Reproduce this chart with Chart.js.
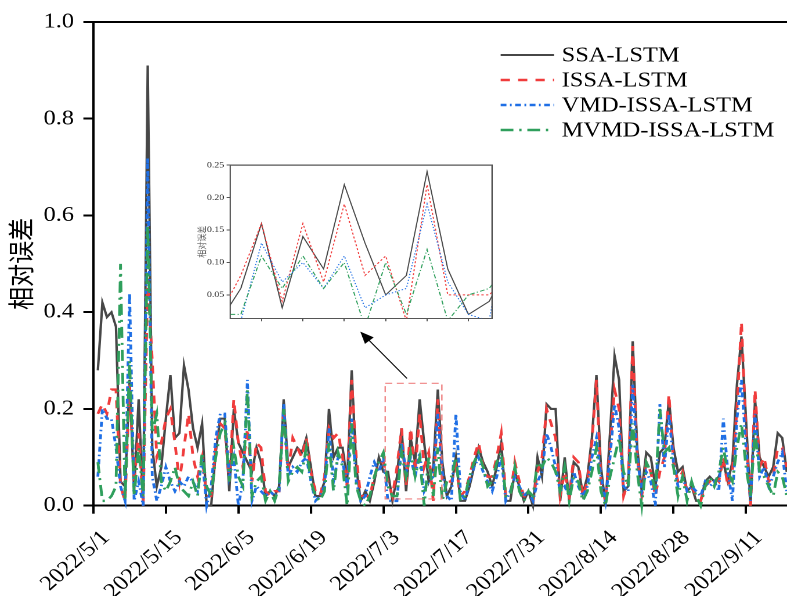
<!DOCTYPE html>
<html>
<head>
<meta charset="utf-8">
<script src="https://cdn.jsdelivr.net/npm/chart.js@4/dist/chart.umd.min.js"></script>
<style>
  html, body { margin: 0; padding: 0; background: #fff; }
  #wrap { position: relative; width: 787px; height: 596px; overflow: hidden; }
  #main { position: absolute; left: 0; top: 0; }
  #inset { position: absolute; left: 186px; top: 158px; }
</style>
</head>
<body>
<div id="wrap">
  <canvas id="main" width="678" height="596" style="width:787px;height:596px"></canvas>
  <canvas id="inset" width="284" height="170" style="width:330px;height:170px"></canvas>
</div>
<script>
// Date labels, one every 16 samples
const tickLabels = ['2022/5/1', '2022/5/15', '2022/6/5', '2022/6/19', '2022/7/3',
                    '2022/7/17', '2022/7/31', '2022/8/14', '2022/8/28', '2022/9/11'];
const tickStep = 16;
const yTicks = [0, 0.2, 0.4, 0.6, 0.8, 1.0];
const insetXTicks = [68, 70, 72, 74, 76, 78];
const insetYTicks = [0.05, 0.10, 0.15, 0.20, 0.25];

const seriesNames = ['SSA-LSTM', 'ISSA-LSTM', 'VMD-ISSA-LSTM', 'MVMD-ISSA-LSTM'];

// Relative error per sample (samples 1..153)
const ssaLstm = [
  0.28,0.42,0.39,0.40,0.37,0.05,0.04,0.26,0.03,0.22,0.00,0.91,0.12,0.04,0.08,0.18,
  0.27,0.14,0.15,0.29,0.24,0.16,0.12,0.17,0.00,0.00,0.11,0.18,0.18,0.03,0.20,0.13,
  0.11,0.09,0.07,0.12,0.09,0.02,0.03,0.02,0.04,0.22,0.08,0.10,0.12,0.11,0.14,0.08,
  0.02,0.02,0.05,0.20,0.10,0.12,0.12,0.05,0.28,0.08,0.01,0.03,0.01,0.05,0.10,0.07,
  0.07,0.01,0.06,0.16,0.03,0.14,0.09,0.22,0.13,0.05,0.08,0.24,0.09,0.02,0.04,0.10,
  0.01,0.01,0.04,0.08,0.12,0.09,0.07,0.04,0.08,0.13,0.01,0.01,0.07,0.04,0.01,0.03,
  0.00,0.10,0.06,0.21,0.20,0.20,0.01,0.10,0.01,0.09,0.08,0.025,0.06,0.14,0.27,0.08,
  0.00,0.15,0.31,0.26,0.03,0.04,0.34,0.12,0.03,0.11,0.10,0.04,0.11,0.12,0.22,0.12,
  0.07,0.08,0.03,0.04,0.01,0.01,0.05,0.06,0.05,0.06,0.09,0.05,0.09,0.25,0.35,0.18,
  0.00,0.22,0.10,0.08,0.06,0.08,0.15,0.14,0.07
];
const issaLstm = [
  0.19,0.21,0.19,0.24,0.24,0.04,0.01,0.25,0.05,0.15,0.00,0.47,0.30,0.10,0.13,0.18,
  0.20,0.13,0.05,0.12,0.19,0.10,0.06,0.10,0.02,0.02,0.12,0.17,0.16,0.05,0.22,0.13,
  0.08,0.16,0.05,0.13,0.12,0.03,0.02,0.03,0.03,0.20,0.07,0.14,0.12,0.10,0.14,0.07,
  0.03,0.02,0.06,0.16,0.14,0.15,0.10,0.04,0.26,0.10,0.02,0.02,0.02,0.06,0.09,0.09,
  0.05,0.02,0.08,0.16,0.04,0.16,0.07,0.19,0.08,0.11,0.01,0.22,0.05,0.05,0.05,0.08,
  0.02,0.03,0.06,0.10,0.13,0.08,0.06,0.06,0.10,0.15,0.02,0.02,0.09,0.05,0.02,0.02,
  0.01,0.07,0.10,0.20,0.17,0.14,0.02,0.07,0.02,0.10,0.09,0.02,0.05,0.13,0.26,0.05,
  0.01,0.12,0.24,0.20,0.02,0.05,0.33,0.10,0.02,0.09,0.07,0.02,0.07,0.10,0.23,0.09,
  0.05,0.07,0.03,0.04,0.02,0.01,0.04,0.05,0.06,0.05,0.10,0.04,0.07,0.20,0.38,0.15,
  0.00,0.24,0.08,0.10,0.05,0.06,0.12,0.12,0.08
];
const vmdIssaLstm = [
  0.06,0.20,0.18,0.18,0.12,0.04,0.01,0.44,0.01,0.05,0.00,0.72,0.06,0.01,0.04,0.08,
  0.05,0.03,0.05,0.04,0.06,0.05,0.03,0.10,0.00,0.04,0.14,0.19,0.19,0.06,0.10,0.00,
  0.05,0.26,0.01,0.04,0.03,0.02,0.03,0.02,0.03,0.21,0.06,0.08,0.07,0.09,0.10,0.05,
  0.01,0.02,0.04,0.16,0.05,0.10,0.09,0.04,0.18,0.05,0.01,0.02,0.06,0.09,0.07,0.10,
  0.01,0.01,0.01,0.13,0.07,0.10,0.06,0.11,0.03,0.05,0.06,0.19,0.07,0.02,0.01,0.19,
  0.03,0.01,0.05,0.08,0.10,0.07,0.05,0.03,0.06,0.10,0.01,0.03,0.06,0.04,0.02,0.03,
  0.01,0.05,0.07,0.15,0.12,0.08,0.03,0.04,0.02,0.07,0.04,0.02,0.04,0.10,0.14,0.06,
  0.01,0.10,0.21,0.16,0.04,0.03,0.25,0.10,0.03,0.07,0.05,0.00,0.21,0.08,0.19,0.09,
  0.04,0.06,0.03,0.04,0.03,0.02,0.05,0.04,0.05,0.03,0.18,0.07,0.01,0.18,0.26,0.12,
  0.01,0.19,0.06,0.08,0.04,0.06,0.09,0.11,0.03
];
const mvmdIssaLstm = [
  0.09,0.01,0.01,0.02,0.04,0.50,0.01,0.30,0.02,0.12,0.02,0.58,0.15,0.19,0.05,0.03,
  0.05,0.08,0.04,0.03,0.02,0.05,0.02,0.11,0.04,0.02,0.10,0.15,0.17,0.05,0.12,0.06,
  0.04,0.24,0.02,0.05,0.06,0.01,0.03,0.01,0.04,0.20,0.05,0.07,0.08,0.07,0.12,0.05,
  0.02,0.01,0.03,0.13,0.03,0.11,0.08,0.00,0.17,0.04,0.01,0.00,0.02,0.06,0.09,0.11,
  0.04,0.02,0.02,0.11,0.06,0.11,0.06,0.10,0.00,0.10,0.02,0.12,0.01,0.05,0.06,0.10,
  0.01,0.02,0.06,0.09,0.11,0.08,0.04,0.05,0.09,0.11,0.02,0.02,0.08,0.03,0.01,0.03,
  0.02,0.09,0.08,0.10,0.09,0.07,0.03,0.08,0.01,0.06,0.05,0.01,0.03,0.07,0.12,0.03,
  0.00,0.06,0.10,0.14,0.07,0.04,0.17,0.07,0.00,0.09,0.07,0.03,0.20,0.11,0.12,0.08,
  0.02,0.06,0.01,0.05,0.02,0.00,0.04,0.06,0.04,0.07,0.12,0.07,0.05,0.12,0.17,0.08,
  0.02,0.15,0.07,0.06,0.04,0.02,0.07,0.06,0.02
];

// Magnified window (sample index / error) and the arrow pointing to its inset
const zoomWindow = { x0: 64.4, x1: 76.9, y0: 0.014, y1: 0.253 };
const insetRange = { xMin: 66.48, xMax: 79.14, yMin: 0.014, yMax: 0.25 };
const arrowFrom = { x: 69.2, y: 0.263 };
const arrowTo = { x: 58.9, y: 0.36 };

const allSeries = [ssaLstm, issaLstm, vmdIssaLstm, mvmdIssaLstm];
const styles = [
  { color: '#474747', width: 2.1, dash: [],               insetDash: [] },
  { color: '#f03c3c', width: 2.4, dash: [8, 7],           insetDash: [2, 2] },
  { color: '#1f6fe5', width: 2.4, dash: [5, 3, 1.5, 3],   insetDash: [1.2, 1.8] },
  { color: '#2f9f5c', width: 2.4, dash: [11, 5, 2, 5],    insetDash: [4, 2, 1, 2] }
];
const toPoints = arr => arr.map((v, i) => ({ x: i + 1, y: v }));

const serif = '"Liberation Serif", "Times New Roman", serif';
const cjk = '"Noto Sans CJK SC", sans-serif';

// Top frame line, magnified-window box, arrow and legend
const decorations = {
  id: 'decorations',
  afterDraw(chart) {
    const { ctx, chartArea: a, scales: { x, y } } = chart;
    ctx.save();
    ctx.strokeStyle = '#000';
    ctx.lineWidth = 2;
    ctx.beginPath();
    ctx.moveTo(a.left - 1, a.top);
    ctx.lineTo(a.right, a.top);
    ctx.stroke();

    // dashed window
    const bx0 = x.getPixelForValue(zoomWindow.x0), bx1 = x.getPixelForValue(zoomWindow.x1);
    const by0 = y.getPixelForValue(zoomWindow.y0), by1 = y.getPixelForValue(zoomWindow.y1);
    ctx.strokeStyle = 'rgba(236,110,110,0.85)';
    ctx.lineWidth = 1.2;
    ctx.setLineDash([6, 4]);
    ctx.strokeRect(bx0, by1, bx1 - bx0, by0 - by1);
    ctx.setLineDash([]);

    // arrow
    const tx = x.getPixelForValue(arrowFrom.x), ty = y.getPixelForValue(arrowFrom.y);
    const hx = x.getPixelForValue(arrowTo.x), hy = y.getPixelForValue(arrowTo.y);
    const ang = Math.atan2(hy - ty, hx - tx);
    const L = 12, W = 5;
    ctx.strokeStyle = '#000';
    ctx.fillStyle = '#000';
    ctx.lineWidth = 1;
    ctx.beginPath();
    ctx.moveTo(tx, ty);
    ctx.lineTo(hx - Math.cos(ang) * L * 0.8, hy - Math.sin(ang) * L * 0.8);
    ctx.stroke();
    ctx.beginPath();
    ctx.moveTo(hx, hy);
    ctx.lineTo(hx - Math.cos(ang) * L - Math.sin(ang) * W, hy - Math.sin(ang) * L + Math.cos(ang) * W);
    ctx.lineTo(hx - Math.cos(ang) * L + Math.sin(ang) * W, hy - Math.sin(ang) * L - Math.cos(ang) * W);
    ctx.closePath();
    ctx.fill();

    // legend
    chart.data.datasets.forEach((ds, k) => {
      const ly = 55 + k * 25;
      ctx.strokeStyle = ds.borderColor;
      ctx.lineWidth = ds.borderWidth;
      ctx.setLineDash(ds.borderDash || []);
      ctx.beginPath();
      ctx.moveTo(431.3, ly);
      ctx.lineTo(477.3, ly);
      ctx.stroke();
      ctx.setLineDash([]);
      ctx.fillStyle = '#000';
      ctx.font = '21px ' + serif;
      ctx.textBaseline = 'middle';
      ctx.textAlign = 'left';
      ctx.fillText(ds.label, 483.9, ly + 1);
    });
    ctx.restore();
  }
};

new Chart(document.getElementById('main'), {
  type: 'line',
  data: {
    datasets: allSeries.map((arr, k) => ({
      label: seriesNames[k],
      data: toPoints(arr),
      borderColor: styles[k].color,
      borderWidth: styles[k].width,
      borderDash: styles[k].dash,
      pointRadius: 0,
      tension: 0,
      fill: false,
      clip: false,
      order: 3 - k
    }))
  },
  options: {
    responsive: false,
    devicePixelRatio: 2,
    animation: false,
    layout: { padding: { top: 22, right: 0, bottom: 0, left: 0 } },
    plugins: { legend: { display: false }, tooltip: { enabled: false } },
    scales: {
      x: {
        type: 'linear',
        min: 0,
        max: 153.05,
        afterBuildTicks: s => { s.ticks = tickLabels.map((_, k) => ({ value: k * tickStep })); },
        afterFit: s => { s.height = 90.3; s.paddingLeft = 0; s.paddingRight = 0; },
        ticks: {
          autoSkip: false, maxRotation: 45, minRotation: 45, padding: 12, labelOffset: 11,
          color: '#000', font: { family: serif, size: 21 },
          callback: v => tickLabels[Math.round(v / tickStep)] ?? ''
        },
        grid: { drawOnChartArea: false, drawTicks: true, tickLength: 8, color: '#000', lineWidth: 2 },
        border: { display: true, color: '#000', width: 2 }
      },
      y: {
        min: 0,
        max: 1,
        afterBuildTicks: s => { s.ticks = yTicks.map(v => ({ value: v })); },
        afterFit: s => { s.width = 80.4; },
        ticks: {
          padding: 8, color: '#000', font: { family: serif, size: 21 },
          callback: v => Number(v).toFixed(1)
        },
        grid: { drawOnChartArea: false, drawTicks: true, tickLength: 8.6, color: '#000', lineWidth: 2 },
        border: { display: true, color: '#000', width: 2 },
        title: {
          display: true, text: '相对误差', color: '#000',
          font: { family: cjk, size: 23 }, padding: { top: 4, bottom: 0 }
        }
      }
    }
  },
  plugins: [decorations]
});

// Frame around the magnified view
const insetFrame = {
  id: 'insetFrame',
  afterDraw(chart) {
    const { ctx, chartArea: a } = chart;
    ctx.save();
    ctx.strokeStyle = '#555';
    ctx.lineWidth = 1.2;
    ctx.beginPath();
    ctx.moveTo(a.left, a.top);
    ctx.lineTo(a.right, a.top);
    ctx.lineTo(a.right, a.bottom);
    ctx.stroke();
    ctx.restore();
  }
};

new Chart(document.getElementById('inset'), {
  type: 'line',
  data: {
    datasets: allSeries.map((arr, k) => ({
      label: seriesNames[k],
      data: toPoints(arr),
      borderColor: styles[k].color,
      borderWidth: 1,
      borderDash: styles[k].insetDash,
      pointRadius: 0,
      tension: 0,
      fill: false,
      order: 3 - k
    }))
  },
  options: {
    responsive: false,
    devicePixelRatio: 2,
    animation: false,
    layout: { padding: { top: 6.3, right: 20.6, bottom: 0, left: 0 } },
    plugins: { legend: { display: false }, tooltip: { enabled: false } },
    scales: {
      x: {
        type: 'linear',
        min: insetRange.xMin,
        max: insetRange.xMax,
        afterBuildTicks: s => { s.ticks = insetXTicks.map(v => ({ value: v })); },
        afterFit: s => { s.height = 9.7; s.paddingLeft = 0; s.paddingRight = 0; },
        ticks: { display: false },
        grid: { drawOnChartArea: false, drawTicks: true, tickLength: 3, color: '#555', lineWidth: 1 },
        border: { display: true, color: '#555', width: 1 }
      },
      y: {
        min: insetRange.yMin,
        max: insetRange.yMax,
        afterBuildTicks: s => { s.ticks = insetYTicks.map(v => ({ value: v })); },
        afterFit: s => { s.width = 37.9; },
        ticks: {
          padding: 2, color: '#333', font: { family: serif, size: 8.5 },
          callback: v => Number(v).toFixed(2)
        },
        grid: { drawOnChartArea: false, drawTicks: true, tickLength: 3, color: '#555', lineWidth: 1 },
        border: { display: true, color: '#555', width: 1 },
        title: {
          display: true, text: '相对误差', color: '#666',
          font: { family: cjk, size: 8 }, padding: { top: 8.7, bottom: 0 }
        }
      }
    }
  },
  plugins: [insetFrame]
});
</script>
</body>
</html>
